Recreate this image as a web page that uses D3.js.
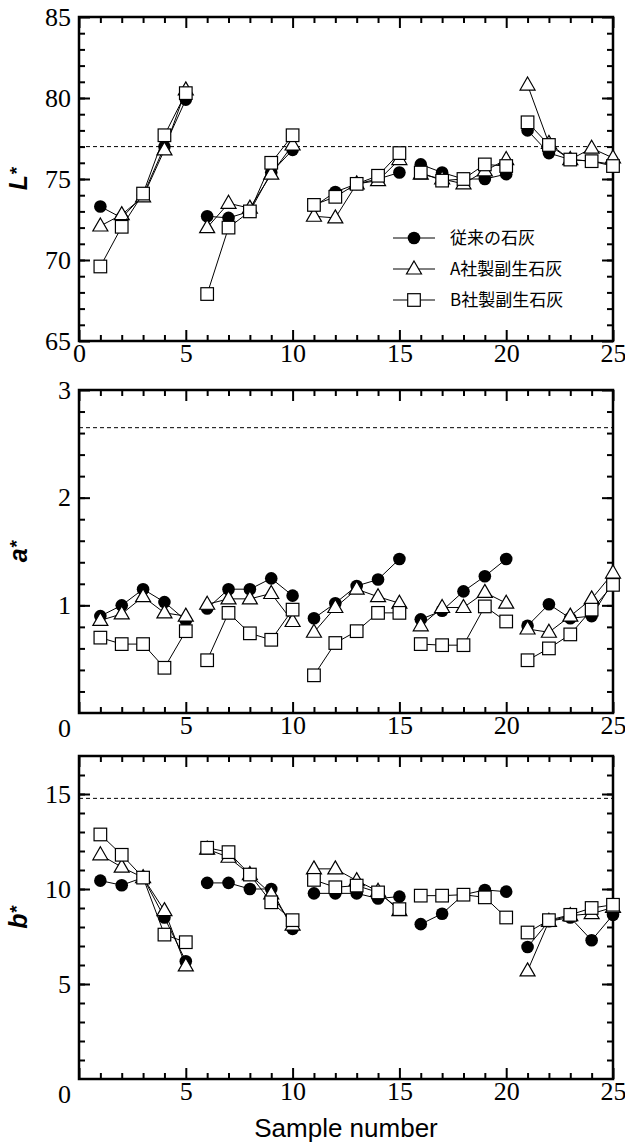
<!DOCTYPE html>
<html>
<head>
<meta charset="utf-8">
<script src="https://cdn.jsdelivr.net/npm/d3@7"></script>
<style>
  body { margin: 0; background: #fff; }
</style>
</head>
<body>
<svg id="chart"></svg>
<script>
// sample numbers 1..25, measured in 5 batches
const samples = d3.range(1, 26);

// L*
const L_conv = [73.3, 72.6, 74.0, 77.0, 79.9, 72.7, 72.6, 73.0, 75.4, 76.8, 73.3, 74.2, 74.7, 75.0, 75.4, 75.9, 75.4, 75.0, 75.0, 75.3, 78.0, 76.6, 76.2, 76.1, 75.9];
const L_A    = [72.1, 72.8, 73.9, 76.8, 80.5, 72.0, 73.5, 73.2, 75.3, 77.1, 72.7, 72.6, 74.7, 74.9, 76.2, 75.3, 75.0, 74.7, 75.5, 76.2, 80.8, 77.2, 76.2, 76.9, 76.3];
const L_B    = [69.6, 72.05, 74.1, 77.7, 80.3, 67.9, 72.0, 73.0, 76.0, 77.7, 73.4, 73.9, 74.7, 75.2, 76.6, 75.4, 74.9, 75.0, 75.9, 75.8, 78.5, 77.1, 76.2, 76.1, 75.8];

// a*
const a_conv = [0.90, 1.00, 1.15, 1.03, 0.86, 0.97, 1.15, 1.15, 1.25, 1.09, 0.88, 1.02, 1.18, 1.24, 1.43, 0.87, 0.95, 1.13, 1.27, 1.43, 0.81, 1.01, 0.88, 0.90, 1.22];
const a_A    = [0.86, 0.92, 1.08, 0.93, 0.90, 1.01, 1.06, 1.06, 1.11, 0.85, 0.75, 0.98, 1.15, 1.08, 1.02, 0.81, 0.98, 0.98, 1.12, 1.02, 0.78, 0.75, 0.90, 1.06, 1.30];
const a_B    = [0.70, 0.64, 0.64, 0.42, 0.76, 0.49, 0.93, 0.74, 0.68, 0.96, 0.35, 0.65, 0.76, 0.93, 0.93, 0.64, 0.63, 0.63, 0.99, 0.85, 0.49, 0.60, 0.73, 0.96, 1.19];

// b*
const b_conv = [10.44, 10.2, 10.6, 8.5, 6.2, 10.32, 10.32, 10.0, 10.0, 7.9, 9.77, 9.77, 9.77, 9.5, 9.6, 8.15, 8.7, 9.7, 9.95, 9.86, 6.95, 8.3, 8.5, 7.3, 8.64];
const b_A    = [11.8, 11.15, 10.6, 8.86, 5.95, 12.1, 11.67, 10.76, 9.74, 8.1, 11.06, 11.06, 10.44, 9.88, 8.86, null, null, null, null, null, 5.69, 8.3, 8.6, 8.7, 9.03];
const b_B    = [12.87, 11.8, 10.6, 7.6, 7.2, 12.17, 11.94, 10.76, 9.3, 8.36, 10.48, 10.09, 10.18, 9.82, 8.94, 9.65, 9.65, 9.7, 9.56, 8.5, 7.71, 8.36, 8.64, 9.0, 9.17];

// limits (dashed)
const limits = [77, 2.65, 14.77];

const seriesNames = ["従来の石灰", "A社製副生石灰", "B社製副生石灰"];
const xTicks = [0, 5, 10, 15, 20, 25];

const W = 625, H = 1144;
const left = 79, right = 613;
const serif = "'Liberation Serif', 'Times New Roman', serif";
const sans = "'Liberation Sans', Arial, sans-serif";

const svg = d3.select("#chart").attr("width", W).attr("height", H);

const x = d3.scaleLinear().domain([0, 25]).range([left, right]);

const panels = [
    {title: "L", top: 17, bottom: 341, domain: [65, 85], major: [65, 70, 75, 80, 85], minor: d3.range(66, 85, 1), data: [L_conv, L_A, L_B], limit: limits[0]},
    {title: "a", top: 390, bottom: 713, domain: [0, 3], major: [1, 2, 3], minor: d3.range(0.2, 3, 0.2), data: [a_conv, a_A, a_B], limit: limits[1]},
    {title: "b", top: 756, bottom: 1079, domain: [0, 17], major: [5, 10, 15], minor: d3.range(1, 17, 1), data: [b_conv, b_A, b_B], limit: limits[2]}
];

const triangle = "M0,-8L7.5,5L-7.5,5Z";

function drawMarker(g, type, cx, cy) {
    if (type === 0) {
        g.append("circle").attr("cx", cx).attr("cy", cy).attr("r", 6.3).attr("fill", "#000");
    } else if (type === 1) {
        g.append("path").attr("d", triangle).attr("transform", "translate(" + cx + "," + cy + ")")
         .attr("fill", "#fff").attr("stroke", "#000").attr("stroke-width", 1.2);
    } else {
        g.append("rect").attr("x", cx - 6.3).attr("y", cy - 6.3).attr("width", 12.6).attr("height", 12.6)
         .attr("fill", "#fff").attr("stroke", "#000").attr("stroke-width", 1.2);
    }
}

function styleAxis(a) {
    a.attr("font-family", serif).attr("font-size", 26);
    a.selectAll(".tick line").attr("stroke-width", 2);
    a.selectAll("text").attr("fill", "#000");
}

panels.forEach(function (p) {
    let y = d3.scaleLinear().domain(p.domain).range([p.bottom, p.top]);
    let g = svg.append("g");

    // dashed limit line
    g.append("line")
     .attr("x1", left).attr("x2", right)
     .attr("y1", y(p.limit)).attr("y2", y(p.limit))
     .attr("stroke", "#000").attr("stroke-width", 1).attr("stroke-dasharray", "4,3");

    // minor ticks
    let minorX = d3.range(1, 25).filter(d => d % 5 !== 0);
    g.append("g").attr("transform", "translate(0," + p.bottom + ")")
     .call(d3.axisBottom(x).tickValues(minorX).tickSize(-6).tickFormat("")).call(styleAxis);
    g.append("g").attr("transform", "translate(0," + p.top + ")")
     .call(d3.axisTop(x).tickValues(minorX).tickSize(-6).tickFormat("")).call(styleAxis);
    g.append("g").attr("transform", "translate(" + left + ",0)")
     .call(d3.axisLeft(y).tickValues(p.minor).tickSize(-6).tickFormat("")).call(styleAxis);
    g.append("g").attr("transform", "translate(" + right + ",0)")
     .call(d3.axisRight(y).tickValues(p.minor).tickSize(-6).tickFormat("")).call(styleAxis);

    // major ticks + labels
    let bx = g.append("g").attr("transform", "translate(0," + p.bottom + ")")
              .call(d3.axisBottom(x).tickValues(xTicks).tickSize(-11).tickPadding(3).tickFormat(d3.format("d")))
              .call(styleAxis);
    if (p.domain[0] === 0) {
        bx.selectAll(".tick").filter(d => d === 0).select("text").attr("x", -15).attr("y", 6);
    }
    g.append("g").attr("transform", "translate(0," + p.top + ")")
     .call(d3.axisTop(x).tickValues(xTicks).tickSize(-11).tickFormat("")).call(styleAxis);
    g.append("g").attr("transform", "translate(" + left + ",0)")
     .call(d3.axisLeft(y).tickValues(p.major).tickSize(-11).tickPadding(8).tickFormat(d3.format("d")))
     .call(styleAxis);
    g.append("g").attr("transform", "translate(" + right + ",0)")
     .call(d3.axisRight(y).tickValues(p.major).tickSize(-11).tickFormat("")).call(styleAxis);
    g.selectAll(".domain").remove();

    // frame
    g.append("rect")
     .attr("x", left).attr("y", p.top)
     .attr("width", right - left).attr("height", p.bottom - p.top)
     .attr("fill", "none").attr("stroke", "#000").attr("stroke-width", 2.5);

    // axis title
    let t = g.append("text")
             .attr("transform", "translate(27," + (p.top + p.bottom) / 2 + ") rotate(-90)")
             .attr("text-anchor", "middle")
             .style("font-family", sans)
             .style("font-size", "25px").style("font-weight", "bold").style("font-style", "italic");
    t.append("tspan").text(p.title);
    t.append("tspan").text("*").attr("dy", -4).style("font-size", "19px");

    // series, batch by batch
    let line = d3.line().defined(d => d[1] != null).x(d => x(d[0])).y(d => y(d[1]));
    p.data.forEach(function (vals, si) {
        let sg = g.append("g");
        d3.range(5).forEach(function (b) {
            let pts = d3.range(b * 5, b * 5 + 5).map(i => [samples[i], vals[i]]);
            sg.append("path").attr("d", line(pts))
              .attr("fill", "none").attr("stroke", "#000").attr("stroke-width", 1);
        });
        vals.forEach(function (v, i) {
            if (v != null) drawMarker(sg, si, x(samples[i]), y(v));
        });
    });
});

// legend in the L* panel
const legendRows = [238, 269, 300];
let lg = svg.append("g");
seriesNames.forEach(function (name, i) {
    lg.append("line").attr("x1", 393).attr("x2", 435)
      .attr("y1", legendRows[i]).attr("y2", legendRows[i])
      .attr("stroke", "#000").attr("stroke-width", 1);
    drawMarker(lg, i, 414, legendRows[i]);
    lg.append("text").attr("x", 450).attr("y", legendRows[i] + 6)
      .style("font-family", "'Noto Sans CJK JP', sans-serif").style("font-size", "17px")
      .text(name);
});

// x axis title
svg.append("text")
   .attr("x", 346).attr("y", 1137)
   .attr("text-anchor", "middle")
   .style("font-family", sans)
   .style("font-size", "26px")
   .text("Sample number");
</script>
</body>
</html>
